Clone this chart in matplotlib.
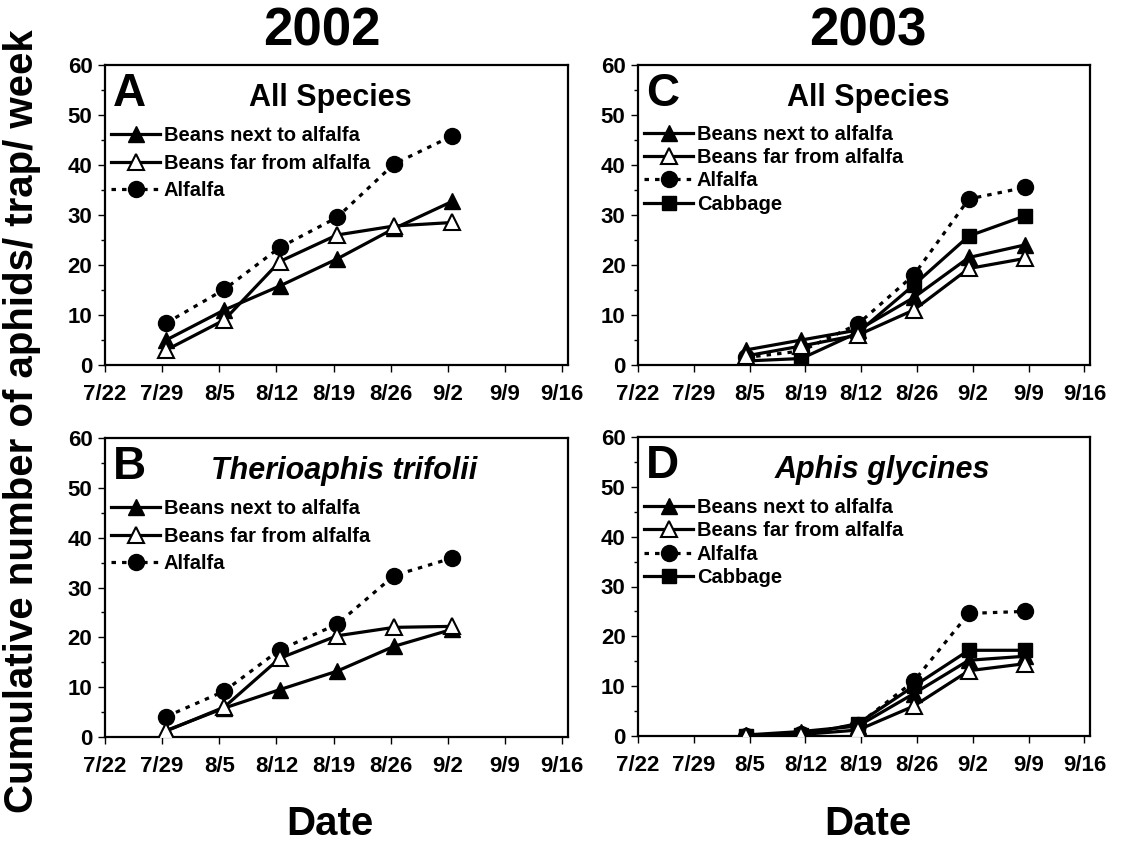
import matplotlib
matplotlib.use("Agg")
import matplotlib.pyplot as plt
from matplotlib.ticker import MultipleLocator

plt.rcParams['font.family'] = ['Liberation Sans', 'DejaVu Sans']
plt.rcParams['font.weight'] = 'bold'

# ---- Data ----
tick_days = [0, 7, 14, 21, 28, 35, 42, 49, 56]
labels_std = ['7/22', '7/29', '8/5', '8/12', '8/19', '8/26', '9/2', '9/9', '9/16']
labels_c = ['7/22', '7/29', '8/5', '8/19', '8/12', '8/26', '9/2', '9/9', '9/16']

days_2002 = [7.5, 14.6, 21.4, 28.4, 35.4, 42.5]
days_2003 = [13.5, 20.5, 27.6, 34.6, 41.5, 48.5]

a_next = [5.0, 11.0, 15.8, 21.2, 27.3, 32.7]
a_far = [3.0, 9.0, 20.7, 26.0, 27.8, 28.5]
a_alf = [8.4, 15.1, 23.5, 29.5, 40.2, 45.8]

b_next = [1.3, 5.8, 9.5, 13.2, 18.2, 21.6]
b_far = [1.2, 6.0, 15.8, 20.3, 22.0, 22.2]
b_alf = [4.1, 9.2, 17.5, 22.6, 32.4, 35.9]

c_next = [3.0, 5.0, 7.0, 13.5, 21.5, 24.0]
c_far = [1.8, 3.8, 6.0, 11.0, 19.3, 21.3]
c_alf = [1.5, 2.8, 8.2, 18.0, 33.2, 35.5]
c_cab = [0.8, 1.3, 6.5, 16.0, 25.8, 29.8]

d_next = [0.2, 0.9, 2.0, 8.5, 15.2, 16.0]
d_far = [0.1, 0.3, 1.2, 6.0, 13.1, 14.5]
d_alf = [0.1, 0.5, 2.3, 11.0, 24.6, 25.0]
d_cab = [0.1, 0.2, 2.5, 10.0, 17.2, 17.2]

W, H = 1140, 841
fig = plt.figure(figsize=(W / 100, H / 100), dpi=100)

def rect(l, t, r, b):
    return [l / W, 1 - b / H, (r - l) / W, (b - t) / H]

axA = fig.add_axes(rect(105, 65, 568, 365))
axC = fig.add_axes(rect(638, 65, 1090, 365))
axB = fig.add_axes(rect(105, 438, 568, 737))
axD = fig.add_axes(rect(638, 437, 1090, 736))

LW = 2.3
DASH = (0, (1.4, 1.9))

def draw(ax, x, nxt, far, alf, cab, letter, title, title_x, italic, ticklabels,
         legend_spacing, legend_top):
    h1, = ax.plot(x, nxt, color='black', lw=LW, marker='^', ms=11,
                  mfc='black', mec='black', label='Beans next to alfalfa', zorder=4)
    h2, = ax.plot(x, far, color='black', lw=LW, marker='^', ms=11,
                  mfc='white', mec='black', mew=1.5, label='Beans far from alfalfa', zorder=4)
    h3, = ax.plot(x, alf, color='black', lw=LW, ls=DASH, marker='o', ms=11.5,
                  mfc='black', mec='black', label='Alfalfa', zorder=3)
    handles = [h1, h2, h3]
    if cab is not None:
        h4, = ax.plot(x, cab, color='black', lw=LW, marker='s', ms=10,
                      mfc='black', mec='black', label='Cabbage', zorder=3)
        handles.append(h4)
    ax.set_xlim(0, 56.7)
    ax.set_ylim(0, 60)
    ax.set_xticks(tick_days)
    ax.set_xticklabels(ticklabels)
    ax.yaxis.set_major_locator(MultipleLocator(10))
    ax.yaxis.set_minor_locator(MultipleLocator(5))
    ax.tick_params(axis='both', which='major', labelsize=16, length=5, width=1,
                   direction='out')
    ax.tick_params(axis='x', which='major', pad=9)
    ax.tick_params(axis='y', which='major', pad=4)
    ax.tick_params(axis='y', which='minor', length=3, width=1, direction='out')
    for lab in ax.get_xticklabels() + ax.get_yticklabels():
        lab.set_fontweight('bold')
    for s in ax.spines.values():
        s.set_linewidth(1.6)
    ax.text(0.018, 0.975, letter, transform=ax.transAxes, ha='left', va='top',
            fontsize=33, fontweight='bold')
    ax.text(title_x, 0.89, title, transform=ax.transAxes, ha='center', va='center',
            fontsize=22, fontweight='bold', style='italic' if italic else 'normal')
    leg = ax.legend(handles=handles, loc='upper left', bbox_to_anchor=(-0.008, legend_top),
                    frameon=False, fontsize=14.5, handlelength=2.4, handletextpad=0.2,
                    labelspacing=legend_spacing, borderaxespad=0.3, borderpad=0.2)
    for t in leg.get_texts():
        t.set_fontweight('bold')

draw(axA, days_2002, a_next, a_far, a_alf, None, 'A', 'All Species', 0.487, False,
     labels_std, 0.43, 0.83)
draw(axB, days_2002, b_next, b_far, b_alf, None, 'B', 'Therioaphis trifolii', 0.516, True,
     labels_std, 0.43, 0.83)
draw(axC, days_2003, c_next, c_far, c_alf, c_cab, 'C', 'All Species', 0.51, False,
     labels_c, 0.22, 0.835)
draw(axD, days_2003, d_next, d_far, d_alf, d_cab, 'D', 'Aphis glycines', 0.54, True,
     labels_std, 0.22, 0.83)

fig.text(322 / W, 1 - 32 / H, '2002', ha='center', va='center', fontsize=38, fontweight='bold')
fig.text(868 / W, 1 - 32 / H, '2003', ha='center', va='center', fontsize=38, fontweight='bold')
fig.text(330 / W, 1 - 824 / H, 'Date', ha='center', va='center', fontsize=29, fontweight='bold')
fig.text(868 / W, 1 - 824 / H, 'Date', ha='center', va='center', fontsize=29, fontweight='bold')
fig.text(22 / W, 1 - 421 / H, 'Cumulative number of aphids/ trap/ week', ha='center', va='center',
         rotation=90, fontsize=29, fontweight='bold')

fig.savefig('out.png', dpi=100)
